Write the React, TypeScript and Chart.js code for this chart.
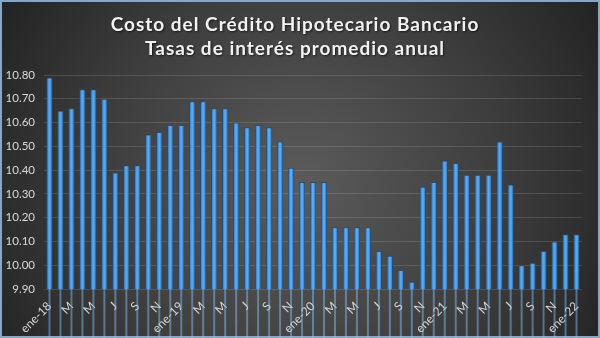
import React, { useEffect, useRef } from "react";
import { Chart, registerables } from "chart.js";

Chart.register(...registerables);

const titleLines = ["Costo del Crédito Hipotecario Bancario", "Tasas de interés promedio anual"];

const categories = [
  "ene-18", "feb-18", "mar-18", "abr-18", "may-18", "jun-18", "jul-18", "ago-18", "sep-18", "oct-18", "nov-18", "dic-18",
  "ene-19", "feb-19", "mar-19", "abr-19", "may-19", "jun-19", "jul-19", "ago-19", "sep-19", "oct-19", "nov-19", "dic-19",
  "ene-20", "feb-20", "mar-20", "abr-20", "may-20", "jun-20", "jul-20", "ago-20", "sep-20", "oct-20", "nov-20", "dic-20",
  "ene-21", "feb-21", "mar-21", "abr-21", "may-21", "jun-21", "jul-21", "ago-21", "sep-21", "oct-21", "nov-21", "dic-21",
  "ene-22",
];

// shown tick labels (every other month)
const tickLabels = [
  "ene-18", "", "M", "", "M", "", "J", "", "S", "", "N", "",
  "ene-19", "", "M", "", "M", "", "J", "", "S", "", "N", "",
  "ene-20", "", "M", "", "M", "", "J", "", "S", "", "N", "",
  "ene-21", "", "M", "", "M", "", "J", "", "S", "", "N", "",
  "ene-22",
];

const rates = [
  10.79, 10.65, 10.66, 10.74, 10.74, 10.70, 10.39, 10.42, 10.42, 10.55, 10.56, 10.59,
  10.59, 10.69, 10.69, 10.66, 10.66, 10.60, 10.58, 10.59, 10.58, 10.52, 10.41, 10.35,
  10.35, 10.35, 10.16, 10.16, 10.16, 10.16, 10.06, 10.04, 9.98, 9.93, 10.33, 10.35,
  10.44, 10.43, 10.38, 10.38, 10.38, 10.52, 10.34, 10.00, 10.01, 10.06, 10.10, 10.13,
  10.13,
];

const yMin = 9.9;
const yMax = 10.8;
const yStep = 0.1;

const bgPlugin = {
  id: "bgPlugin",
  beforeDraw(chart: any) {
    const { ctx, width, height } = chart;
    ctx.save();
    const g = ctx.createRadialGradient(width * 0.5, height * 0.55, 10, width * 0.5, height * 0.55, width * 0.62);
    g.addColorStop(0, "#5a5a5a");
    g.addColorStop(0.55, "#3c3c3c");
    g.addColorStop(1, "#1f1f1f");
    ctx.fillStyle = g;
    ctx.fillRect(0, 0, width, height);
    ctx.strokeStyle = "#8aa6c4";
    ctx.lineWidth = 2;
    ctx.strokeRect(1, 1, width - 2, height - 2);
    // title
    ctx.fillStyle = "#f2f2f2";
    ctx.font = "bold 19px Lato, 'Open Sans', sans-serif";
    (ctx as any).letterSpacing = "1px";
    ctx.textAlign = "center";
    ctx.textBaseline = "middle";
    ctx.shadowColor = "rgba(0,0,0,0.6)";
    ctx.shadowBlur = 2;
    ctx.shadowOffsetX = 1;
    ctx.shadowOffsetY = 1;
    ctx.fillText(titleLines[0], 295, 25);
    ctx.fillText(titleLines[1], 295, 49);
    ctx.restore();
  },
};

const stripePlugin = {
  id: "stripePlugin",
  afterDatasetsDraw(chart: any) {
    const { ctx } = chart;
    const meta = chart.getDatasetMeta(0);
    ctx.save();
    ctx.fillStyle = "rgba(140,200,255,0.45)";
    meta.data.forEach((bar: any) => {
      const h = bar.base - bar.y;
      if (h > 2) ctx.fillRect(bar.x - 1, bar.y + 1, 2, h - 2);
    });
    ctx.restore();
  },
};

export default function App() {
  const ref = useRef<HTMLCanvasElement>(null);
  useEffect(() => {
    document.body.style.margin = "0";
    const chart = new Chart(ref.current!, {
      type: "bar",
      data: {
        labels: categories,
        datasets: [
          {
            data: rates,
            backgroundColor: "#3b8ddb",
            borderColor: "#1d4f7f",
            borderWidth: 1,
            barPercentage: 0.58,
            categoryPercentage: 1,
          },
        ],
      },
      options: {
        animation: false,
        responsive: false,
        maintainAspectRatio: false,
        layout: { padding: { top: 75, left: 0, right: 18, bottom: 0 } },
        plugins: {
          legend: { display: false },
          title: { display: false },
          tooltip: { enabled: false },
        },
        scales: {
          x: {
            grid: { display: false },
            border: { display: false },
            ticks: {
              autoSkip: false,
              maxRotation: 45,
              minRotation: 45,
              color: "#d4d4d4",
              padding: 2,
              font: { size: 12, family: "Lato, 'Open Sans', sans-serif" },
              callback: (_v: any, i: number) => tickLabels[i],
            },
            afterFit: (s: any) => {
              s.height = 49;
            },
          },
          y: {
            min: yMin,
            max: yMax,
            grid: { color: "rgba(255,255,255,0.13)", lineWidth: 1, drawTicks: false },
            border: { display: false },
            ticks: {
              stepSize: yStep,
              color: "#d9d9d9",
              padding: 9,
              font: { size: 11.5, family: "Lato, 'Open Sans', sans-serif" },
              callback: (v: any) => Number(v).toFixed(2),
            },
            afterFit: (s: any) => {
              s.width = 44;
            },
          },
        },
      },
      plugins: [bgPlugin, stripePlugin],
    });
    return () => chart.destroy();
  }, []);
  return (
    <div style={{ width: 600, height: 338 }}>
      <canvas ref={ref} width={600} height={338} style={{ width: 600, height: 338, display: "block" }} />
    </div>
  );
}
